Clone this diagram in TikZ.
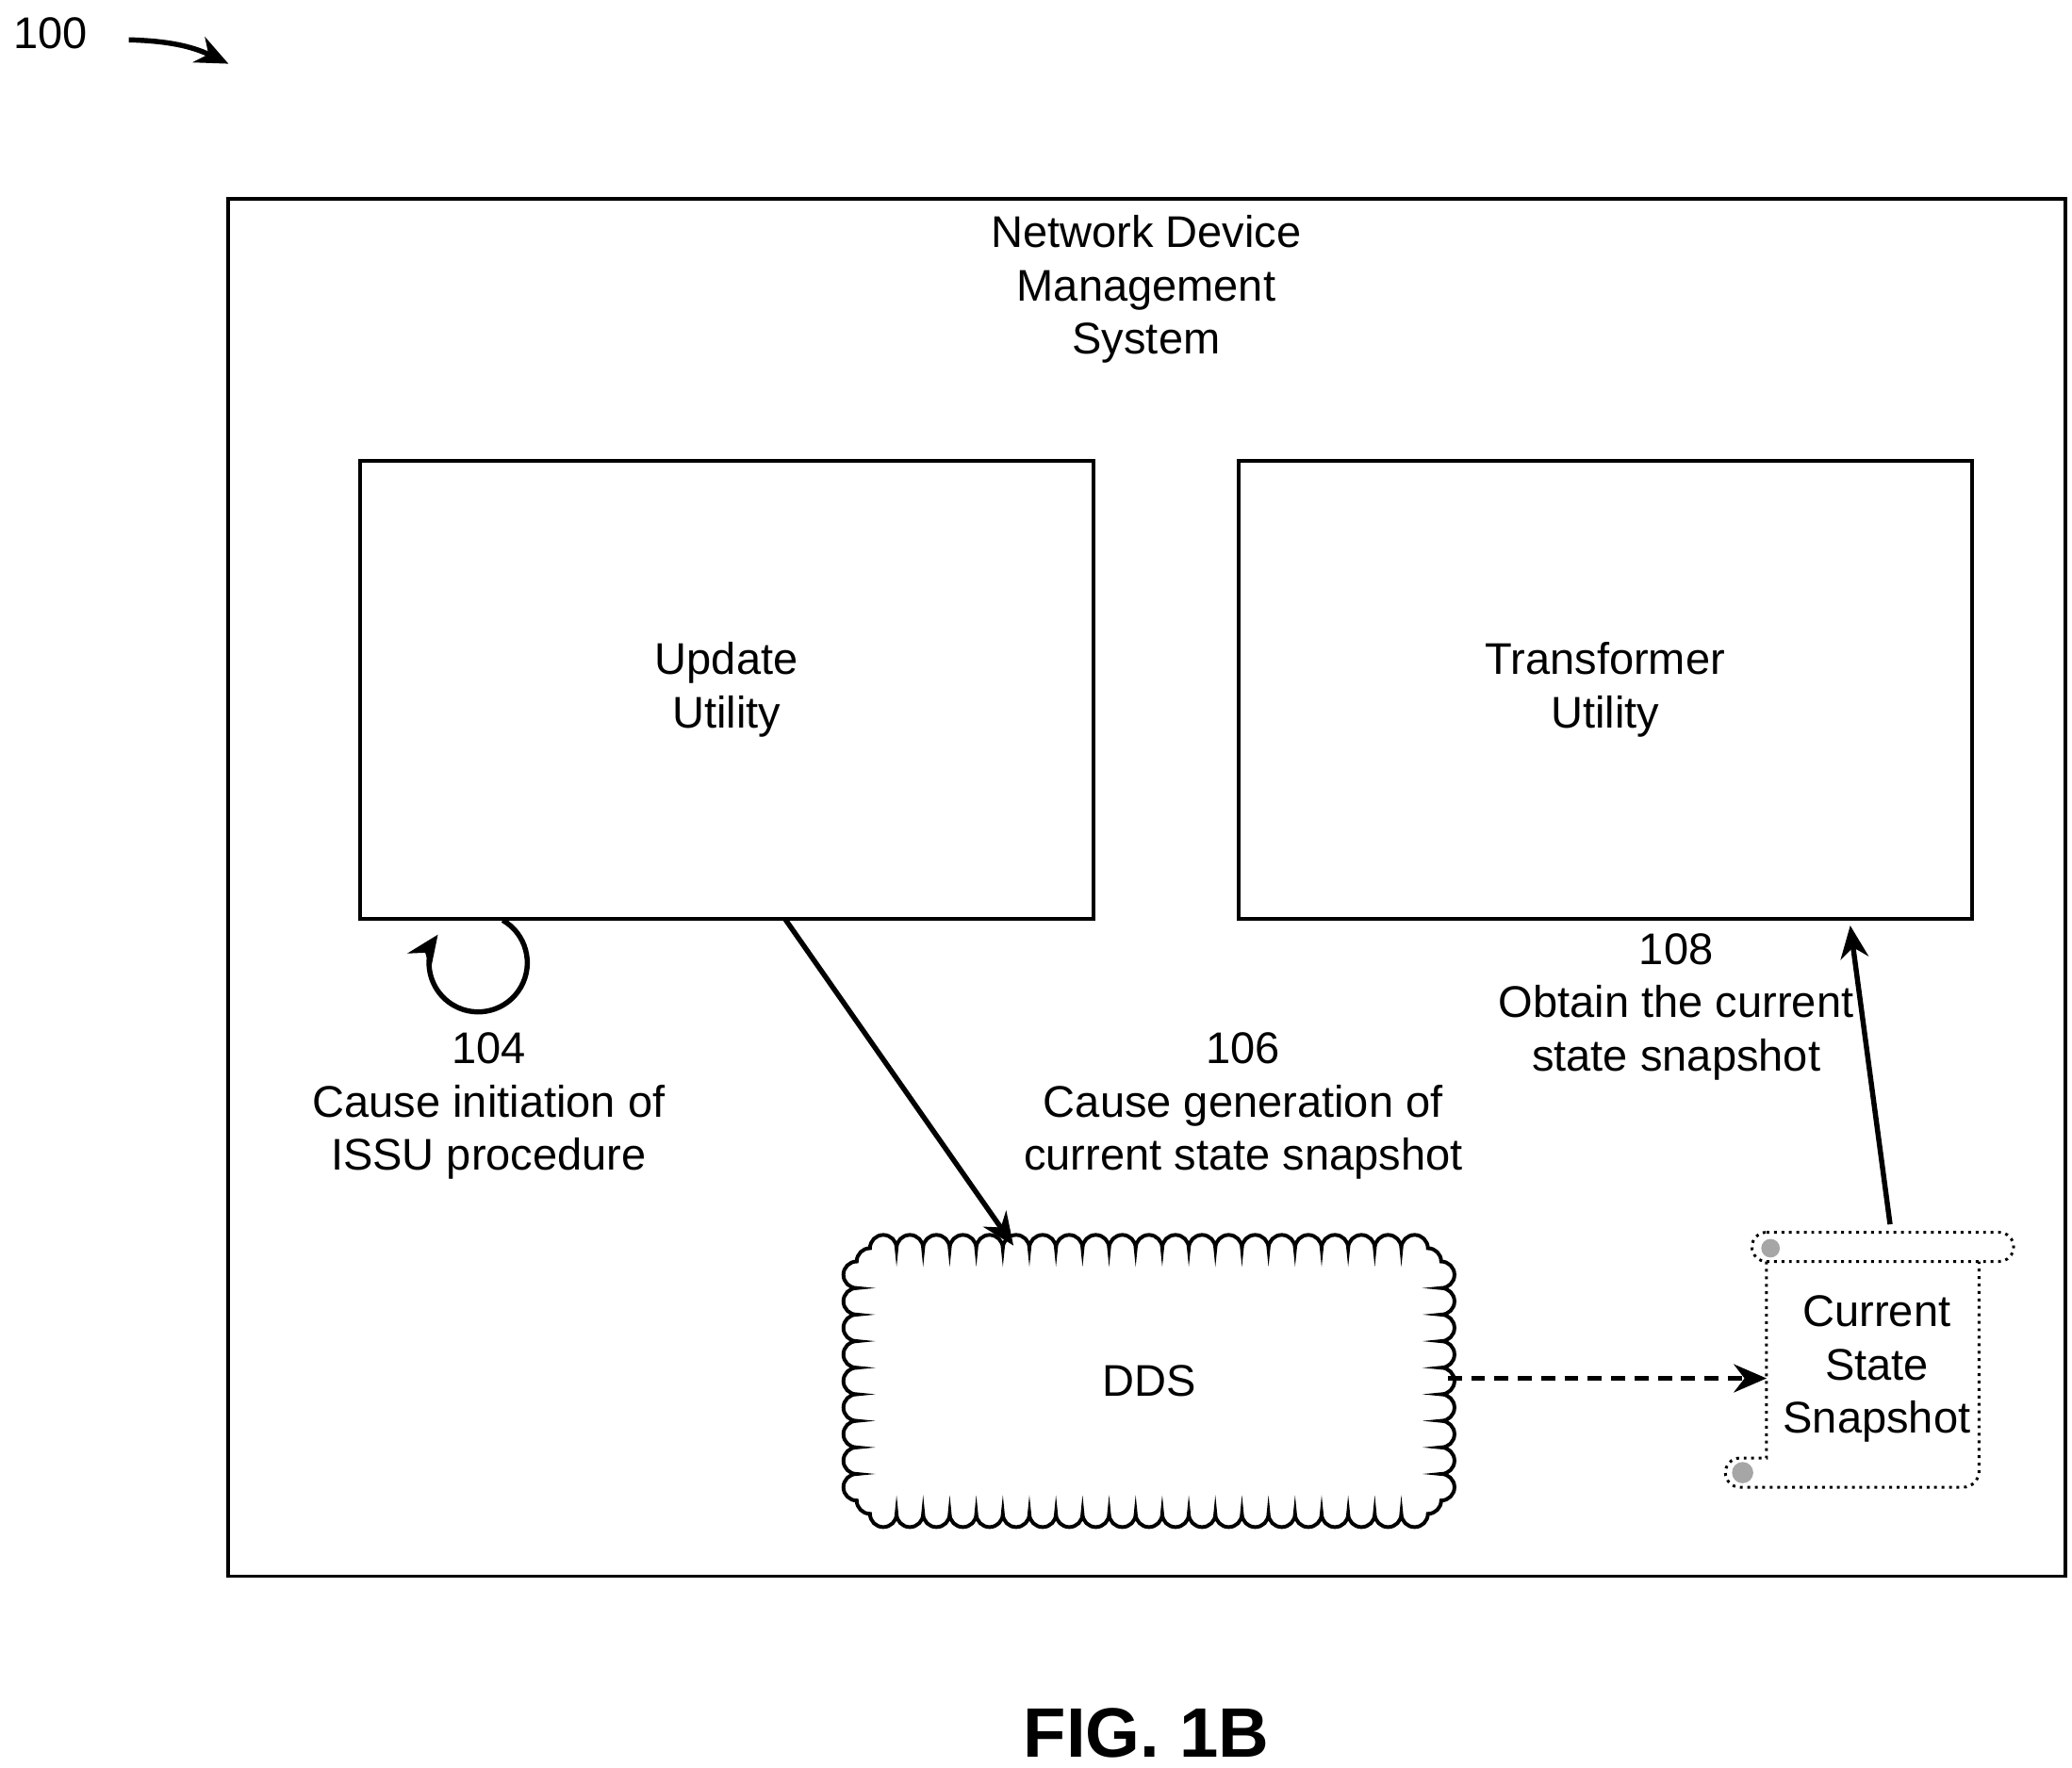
\documentclass[tikz,border=0pt]{standalone}
\usepackage{fontspec}
\setmainfont{Liberation Sans}
\usetikzlibrary{arrows.meta}
\tikzset{
  box/.style={draw, line width=0.8pt, minimum width=5.52cm, minimum height=3.45cm, align=center},
  lbl/.style={align=center, font=\fontsize{9.5}{11.4}\selectfont},
  arr/.style={-{Stealth[length=7pt,width=6pt]}, line width=1.1pt}
}
\begin{document}
\begin{tikzpicture}[x=1cm,y=-1cm, font=\fontsize{9.5}{11.4}\selectfont]
  \useasboundingbox (0,0) rectangle (15.6,13.31);
  % figure number
  \node[lbl] (num) at (0.38,0.25) {100};
  \coordinate (numend) at (1.72,0.48);
  \draw[arr] (0.97,0.3) to[bend left=12] (numend);

  % outer system
  \node[draw, line width=0.8pt, minimum width=13.83cm, minimum height=10.37cm] (sys) at (8.635,6.685) {};
  \node[lbl] (title) at (8.63,2.18) {Network Device\\Management\\System};

  % utilities
  \node[box] (upd) at (5.47,5.195) {Update\\Utility};
  \node[box] (trf) at (12.085,5.195) {Transformer\\Utility};

  % DDS cloud
  \node[minimum width=4.6cm, minimum height=2.2cm] (dds) at (8.65,10.4) {DDS};
  \draw[line width=0.8pt] (6.55,9.4)
    \foreach \i in {1,...,21}{arc (180:360:0.1)} arc (270:360:0.1)
    \foreach \i in {1,...,9}{arc (-90:90:0.1)} arc (0:90:0.1)
    \foreach \i in {1,...,21}{arc (0:180:0.1)} arc (90:180:0.1)
    \foreach \i in {1,...,9}{arc (90:270:0.1)} arc (180:270:0.1) -- cycle;

  % snapshot scroll
  \node[lbl, minimum width=1.6cm, minimum height=1.5cm] (snap) at (14.13,10.31) {Current\\State\\Snapshot};
  \begin{scope}[line width=0.6pt, densely dotted]
    \draw (13.3,9.28) -- (15.05,9.28) arc (-90:90:0.11) -- (13.3,9.5) arc (90:270:0.11);
    \draw (13.3,9.5) -- (13.3,10.98) -- (13.1,10.98) arc (270:90:0.11) -- (13.3,11.2) -- (14.78,11.2)
          arc (90:0:0.12) -- (14.9,9.5);
  \end{scope}
  \fill[gray!70] (13.33,9.4) circle (0.07) (13.12,11.09) circle (0.08);

  % connectors
  \coordinate (ddsin) at (7.63,9.38);
  \coordinate (trfin) at (13.93,6.97);
  \coordinate (ddsout) at (10.9,10.38);
  \draw[arr] (5.91,6.92) -- (ddsin);
  \draw[arr, densely dashed] (ddsout) -- (snap.west |- ddsout);
  \draw[arr] (14.23,9.22) -- (trfin);
  \draw[arr] (3.785,6.93) arc (-60:215:0.37);

  % labels
  \node[lbl] (l104) at (3.68,8.33) {104\\Cause initiation of\\ISSU procedure};
  \node[lbl] (l106) at (9.36,8.33) {106\\Cause generation of\\current state snapshot};
  \node[lbl] (l108) at (12.62,7.58) {108\\Obtain the current\\state snapshot};

  \node[font=\bfseries\fontsize{15}{18}\selectfont] (fig) at (8.63,13.05) {FIG. 1B};
\end{tikzpicture}
\end{document}
